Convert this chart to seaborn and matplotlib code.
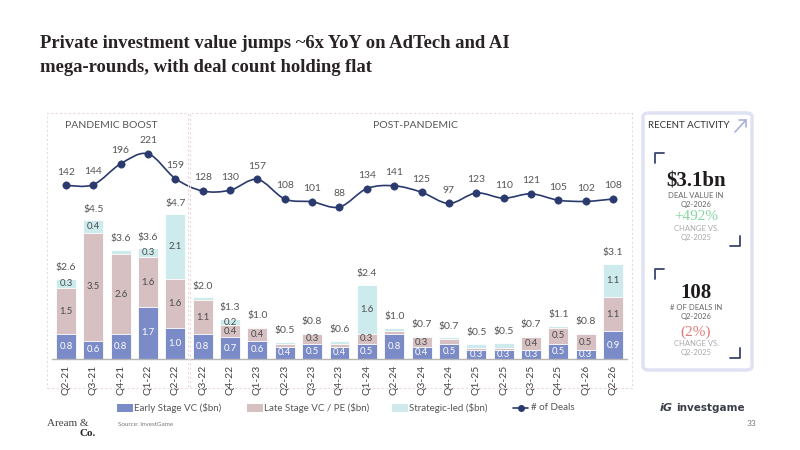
import numpy as np
import pandas as pd
import seaborn as sns
import matplotlib.pyplot as plt
from matplotlib.path import Path
from matplotlib.patches import PathPatch, Rectangle, FancyBboxPatch
from matplotlib.lines import Line2D

# data
quarters = ['Q2-21', 'Q3-21', 'Q4-21', 'Q1-22', 'Q2-22', 'Q3-22', 'Q4-22', 'Q1-23', 'Q2-23',
            'Q3-23', 'Q4-23', 'Q1-24', 'Q2-24', 'Q3-24', 'Q4-24', 'Q1-25', 'Q2-25', 'Q3-25',
            'Q4-25', 'Q1-26', 'Q2-26']
early = [0.8, 0.6, 0.8, 1.7, 1.0, 0.8, 0.7, 0.6, 0.4, 0.5, 0.4, 0.5, 0.8, 0.4, 0.5, 0.3, 0.3, 0.3, 0.5, 0.3, 0.9]
late = [1.5, 3.5, 2.6, 1.6, 1.6, 1.1, 0.4, 0.4, 0.1, 0.3, 0.1, 0.3, 0.1, 0.3, 0.15, 0.05, 0.07, 0.4, 0.5, 0.5, 1.1]
strategic = [0.3, 0.4, 0.15, 0.3, 2.1, 0.1, 0.2, 0.05, 0.05, 0.05, 0.1, 1.6, 0.12, 0.05, 0.05, 0.15, 0.15, 0.05, 0.07, 0.05, 1.1]
totals = [2.6, 4.5, 3.6, 3.6, 4.7, 2.0, 1.3, 1.0, 0.5, 0.8, 0.6, 2.4, 1.0, 0.7, 0.7, 0.5, 0.5, 0.7, 1.1, 0.8, 3.1]
deals = [142, 144, 196, 221, 159, 128, 130, 157, 108, 101, 88, 134, 141, 125, 97, 123, 110, 121, 105, 102, 108]

c_early = '#7b8bc8'
c_late = '#d6c0c2'
c_strat = '#cdeaec'
c_line = '#2b3a6e'
c_text = '#555555'
serif = 'Liberation Serif'

sns.set_theme(style='white')
plt.rcParams['font.family'] = ['Lato', 'DejaVu Sans']

df = pd.DataFrame({'q': quarters, 'early': early, 'late': late, 'strategic': strategic})
df['el'] = df['early'] + df['late']
df['all'] = df['el'] + df['strategic']

W, H = 800, 450
fig = plt.figure(figsize=(8, 4.5), dpi=100)
fig.patch.set_facecolor('white')


def fx(x):
    return x / W


def fy(y):
    return 1 - y / H


# title
fig.text(fx(40), fy(44), 'Private investment value jumps ~6x YoY on AdTech and AI',
         family=serif, weight='bold', fontsize=13.4, color='#2a2326', va='center')
fig.text(fx(40), fy(68), 'mega-rounds, with deal count holding flat',
         family=serif, weight='bold', fontsize=13.4, color='#2a2326', va='center')

# dashed frames
for x0, x1 in [(47, 188), (190, 632)]:
    fig.add_artist(Rectangle((fx(x0), fy(388)), (x1 - x0) / W, (388 - 113) / H,
                             transform=fig.transFigure, fill=False, ec='#ead9de',
                             lw=0.8, ls=(0, (2, 2))))
fig.text(fx(111), fy(126), 'PANDEMIC BOOST', fontsize=7.5, color=c_text, ha='center', va='center')
fig.text(fx(415), fy(126), 'POST-PANDEMIC', fontsize=7.5, color=c_text, ha='center', va='center')

# main axes
ax = fig.add_axes([fx(52), fy(359), 575 / W, 229 / H])
bw = 0.73
sns.barplot(data=df, x='q', y='all', color=c_strat, width=bw, edgecolor='white', linewidth=0.6,
            saturation=1, errorbar=None, ax=ax)
sns.barplot(data=df, x='q', y='el', color=c_late, width=bw, edgecolor='white', linewidth=0.6,
            saturation=1, errorbar=None, ax=ax)
sns.barplot(data=df, x='q', y='early', color=c_early, width=bw, edgecolor='white', linewidth=0.6,
            saturation=1, errorbar=None, ax=ax)
ax.set_xlim(-0.51, 20.51)
ax.set_ylim(0, 229 / 30.8)
ax.set_xlabel('')
ax.set_ylabel('')
ax.set_yticks([])
ax.set_facecolor('none')
for s in ['top', 'right', 'left']:
    ax.spines[s].set_visible(False)
ax.spines['bottom'].set_color('#b5b5b5')
ax.spines['bottom'].set_linewidth(1)
ax.tick_params(axis='x', length=0, pad=4, labelsize=7.5, labelcolor='#444444', rotation=90)

for i in range(len(quarters)):
    segs = [(early[i], 0, 'white'), (late[i], early[i], '#4a4a4a'),
            (strategic[i], early[i] + late[i], '#4a4a4a')]
    for v, base, col in segs:
        if v >= 0.2:
            ax.text(i, base + v / 2, f'{v:.1f}', ha='center', va='center', fontsize=6.8, color=col)
    ax.annotate(f'${totals[i]:.1f}', (i, df['all'][i]), xytext=(0, 8), textcoords='offset points',
                ha='center', va='center', fontsize=7.5, color=c_text)

# deal count on a twin axis
ax2 = ax.twinx()
ax2.set_ylim(88 - (359 - 207) / 0.4, 88 + (207 - 130) / 0.4)
ax2.axis('off')
xs = np.arange(len(deals))
pts = np.column_stack([xs, deals]).astype(float)
verts = [pts[0]]
codes = [Path.MOVETO]
for i in range(len(pts) - 1):
    p0 = pts[max(i - 1, 0)]
    p1 = pts[i]
    p2 = pts[i + 1]
    p3 = pts[min(i + 2, len(pts) - 1)]
    verts += [p1 + (p2 - p0) / 6, p2 - (p3 - p1) / 6, p2]
    codes += [Path.CURVE4] * 3
ax2.add_patch(PathPatch(Path(verts, codes), fill=False, ec=c_line, lw=1.2))
sns.scatterplot(x=xs, y=deals, color=c_line, s=28, edgecolor=c_line, ax=ax2, zorder=5)
for i, d in enumerate(deals):
    ax2.annotate(str(d), (i, d), xytext=(0, 9.5), textcoords='offset points',
                 ha='center', va='center', fontsize=7.5, color=c_text)

# recent activity panel
fig.add_artist(FancyBboxPatch((fx(643), fy(370)), 109 / W, 257 / H,
                              boxstyle='round,pad=0,rounding_size=0.008',
                              transform=fig.transFigure, fc='white', ec='#dfe2f3', lw=2.5))
fig.text(fx(648), fy(125), 'RECENT ACTIVITY', fontsize=7, color='#333333', va='center')
fig.add_artist(Line2D([fx(735), fx(746)], [fy(132), fy(120)], color='#a9afdc', lw=1.2,
                      transform=fig.transFigure))
fig.add_artist(Line2D([fx(739), fx(746), fx(746)], [fy(120), fy(120), fy(127)], color='#a9afdc',
                      lw=1.2, transform=fig.transFigure))
for ty, by in [(153, 246), (269, 358)]:
    fig.add_artist(Line2D([fx(655), fx(655), fx(664)], [fy(ty + 10), fy(ty), fy(ty)],
                          color='#3a4470', lw=1.3, transform=fig.transFigure))
    fig.add_artist(Line2D([fx(730), fx(740), fx(740)], [fy(by), fy(by), fy(by - 10)],
                          color='#3a4470', lw=1.3, transform=fig.transFigure))

cx = fx(696)
fig.text(cx, fy(181), '$3.1bn', family=serif, weight='bold', fontsize=15,
         color='#1f1a1c', ha='center', va='center')
fig.text(cx, fy(195), 'DEAL VALUE IN', fontsize=5.5, color='#666666', ha='center', va='center')
fig.text(cx, fy(205), 'Q2-2026', fontsize=5.5, color='#666666', ha='center', va='center')
fig.text(cx, fy(217), '+492%', family=serif, fontsize=11, color='#86d79f', ha='center', va='center')
fig.text(cx, fy(228), 'CHANGE VS.', fontsize=5.5, color='#aaaaaa', ha='center', va='center')
fig.text(cx, fy(238), 'Q2-2025', fontsize=5.5, color='#aaaaaa', ha='center', va='center')

fig.text(cx, fy(293), '108', family=serif, weight='bold', fontsize=15,
         color='#1f1a1c', ha='center', va='center')
fig.text(cx, fy(308), '# OF DEALS IN', fontsize=5.5, color='#666666', ha='center', va='center')
fig.text(cx, fy(317), 'Q2-2026', fontsize=5.5, color='#666666', ha='center', va='center')
fig.text(cx, fy(332), '(2%)', family=serif, fontsize=11, color='#e07a7a', ha='center', va='center')
fig.text(cx, fy(344), 'CHANGE VS.', fontsize=5.5, color='#aaaaaa', ha='center', va='center')
fig.text(cx, fy(353), 'Q2-2025', fontsize=5.5, color='#aaaaaa', ha='center', va='center')

# legend
leg = [(117, c_early, 'Early Stage VC ($bn)'), (247, c_late, 'Late Stage VC / PE ($bn)'),
       (392, c_strat, 'Strategic-led ($bn)')]
for x0, col, lab in leg:
    fig.add_artist(Rectangle((fx(x0), fy(412)), 16 / W, 8 / H, transform=fig.transFigure,
                             fc=col, ec='none'))
    fig.text(fx(x0 + 17), fy(408), lab, fontsize=7, color=c_text, va='center')
fig.add_artist(Line2D([fx(513), fx(528)], [fy(408), fy(408)], color=c_line, lw=1.2,
                      transform=fig.transFigure))
fig.add_artist(Line2D([fx(520.5)], [fy(408)], color=c_line, marker='o', ms=4,
                      transform=fig.transFigure))
fig.text(fx(531), fy(408), '# of Deals', fontsize=7, color=c_text, va='center')

# footer
fig.text(fx(660), fy(408), 'iG', fontsize=8, weight='bold', style='italic', color='#3a3f4a',
         va='center', family='DejaVu Sans')
fig.text(fx(676), fy(408), 'investgame', fontsize=7.5, weight='bold', color='#3a3f4a',
         va='center', family='DejaVu Sans')
fig.text(fx(47), fy(423), 'Aream &', family=serif, fontsize=8, color='#444444', va='center')
fig.text(fx(79), fy(434), 'Co.', family=serif, fontsize=8, weight='bold', color='#222222',
         va='center')
fig.text(fx(118), fy(424), 'Source: InvestGame', fontsize=4.5, color='#777777', va='center')
fig.text(fx(756), fy(424), '33', fontsize=6, color='#777777', va='center', ha='right')

fig.savefig('out.png', dpi=100, facecolor='white')
